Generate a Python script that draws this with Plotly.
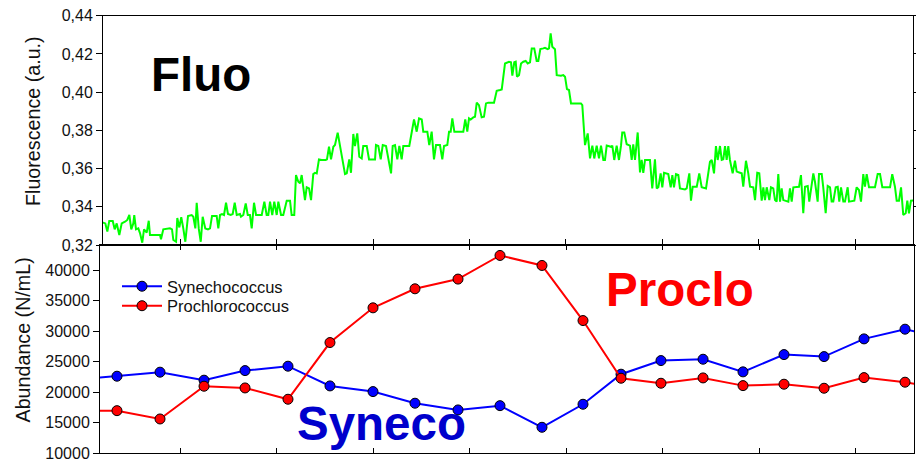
import plotly.graph_objects as go

# ---------------- data ----------------
# Fluorescence trace (time in days, arbitrary origin), values in a.u.
fluo_t = [0.19, 0.205, 0.226, 0.247, 0.267, 0.303, 0.323, 0.344, 0.371, 0.396, 0.430, 0.454, 0.475, 0.495, 0.516, 0.526,
          0.544, 0.568, 0.586, 0.609, 0.627, 0.655, 0.676, 0.689, 0.793, 0.803, 0.827, 0.896, 0.917, 0.931, 0.959,
          0.972, 0.993, 1.013, 1.034, 1.055, 1.083, 1.121, 1.138, 1.159, 1.173, 1.194, 1.215, 1.235, 1.262, 1.290,
          1.311, 1.332, 1.380, 1.397, 1.415, 1.435, 1.456, 1.477, 1.497, 1.525, 1.546, 1.567, 1.588, 1.622,
          1.632, 1.656, 1.681, 1.702, 1.725, 1.743, 1.767, 1.788, 1.847, 1.874, 1.898, 1.915, 1.933, 1.956, 1.977,
          2.002, 2.019, 2.047, 2.070, 2.106, 2.140, 2.157, 2.184, 2.202, 2.226, 2.244, 2.261, 2.295, 2.313, 2.337,
          2.358, 2.381, 2.399, 2.417, 2.440, 2.468, 2.510, 2.523, 2.544, 2.565, 2.589, 2.606, 2.634, 2.658, 2.710,
          2.728, 2.754, 2.772, 2.796, 2.813, 2.837, 2.858, 2.883, 2.899, 2.935, 2.959, 3.021,
          3.031, 3.055, 3.080, 3.101, 3.135, 3.159, 3.187, 3.204, 3.228, 3.252, 3.273, 3.297, 3.314, 3.376, 3.401,
          3.425, 3.453, 3.477, 3.505, 3.521, 3.563, 3.583, 3.608, 3.632, 3.653, 3.694, 3.718, 3.736, 3.770, 3.788,
          3.805, 3.822, 3.843, 3.909, 3.936, 3.956, 3.977, 3.995, 4.012, 4.039, 4.057, 4.075, 4.098, 4.126, 4.150,
          4.171, 4.195, 4.254, 4.282, 4.316, 4.334, 4.368,
          4.409, 4.430, 4.444, 4.464, 4.479, 4.492, 4.513, 4.534, 4.558, 4.582, 4.603, 4.627, 4.645, 4.671, 4.696,
          4.713, 4.734, 4.765, 4.782, 4.810, 4.824, 4.841, 4.858, 4.886, 4.904, 4.948, 4.972, 4.990, 5.010, 5.031,
          5.052, 5.155, 5.169, 5.197, 5.225, 5.249, 5.273, 5.293, 5.318, 5.342, 5.363, 5.387, 5.404, 5.422, 5.466,
          5.480, 5.500, 5.525, 5.549, 5.570, 5.583, 5.604, 5.629, 5.663, 5.681, 5.697, 5.715, 5.743, 5.767, 5.784,
          5.801, 5.819, 5.870, 5.894, 5.922, 5.940, 5.957, 5.981, 5.998, 6.016, 6.044, 6.060, 6.085, 6.102, 6.119,
          6.140, 6.164, 6.181, 6.233, 6.251, 6.278, 6.295, 6.313, 6.355, 6.381, 6.406, 6.451, 6.475, 6.492, 6.510,
          6.534, 6.554, 6.572, 6.596, 6.614, 6.630, 6.648, 6.665, 6.682, 6.699, 6.727, 6.751, 6.769, 6.803, 6.821,
          6.837, 6.865, 6.889, 6.907, 6.941, 6.959, 6.982, 7.003, 7.028, 7.045, 7.062, 7.080, 7.107, 7.124, 7.148,
          7.166,
          7.183, 7.200, 7.218, 7.235, 7.252, 7.287, 7.304, 7.321, 7.339, 7.356, 7.415, 7.435, 7.459, 7.477, 7.505,
          7.521, 7.546, 7.563, 7.580, 7.608, 7.622, 7.650, 7.666, 7.691, 7.712, 7.736, 7.753, 7.770, 7.795, 7.816,
          7.832, 7.850, 7.874, 7.891, 7.919, 7.933, 7.988, 8.012, 8.036, 8.057, 8.081, 8.098, 8.116, 8.140, 8.202,
          8.230, 8.254, 8.278, 8.358, 8.381, 8.409, 8.427, 8.451, 8.472, 8.495, 8.520, 8.537, 8.554, 8.575, 8.599,
          8.62]
fluo_v = [0.3317, 0.3317, 0.3313, 0.3270, 0.3326, 0.3326, 0.3282, 0.3313, 0.3252, 0.3313, 0.3322, 0.3331, 0.3357,
          0.3282, 0.3313, 0.3357, 0.3282, 0.3287, 0.3261, 0.3212, 0.3282, 0.3265, 0.3327, 0.3252, 0.3252, 0.3230,
          0.3282, 0.3287, 0.3282, 0.3226, 0.3217, 0.3341, 0.3292, 0.3345, 0.3287, 0.3217, 0.3352, 0.3357, 0.3348,
          0.3287, 0.3421, 0.3287, 0.3217, 0.3348, 0.3287, 0.3282, 0.3287, 0.3352, 0.3352, 0.3287, 0.3357, 0.3362,
          0.3357, 0.3421, 0.3362, 0.3357, 0.3362, 0.3421, 0.3357, 0.3362,
          0.3348, 0.3357, 0.3418, 0.3357, 0.3357, 0.3287, 0.3421, 0.3357, 0.3357, 0.3427, 0.3357, 0.3357, 0.3427,
          0.3357, 0.3427, 0.3357, 0.3427, 0.3357, 0.3357, 0.3432, 0.3432, 0.3357, 0.3357, 0.3566, 0.3531, 0.3523,
          0.3566, 0.3435, 0.3502, 0.3496, 0.3435, 0.3571, 0.3578, 0.3575, 0.3648, 0.3645, 0.3645, 0.3648, 0.3714,
          0.3648, 0.3714, 0.3723, 0.3788, 0.3714, 0.3571, 0.3575, 0.3648, 0.3578, 0.3781, 0.3718, 0.3784, 0.3662,
          0.3653, 0.3718, 0.3718, 0.3648, 0.3648,
          0.3723, 0.3718, 0.3648, 0.3723, 0.3718, 0.3648, 0.3575, 0.3718, 0.3723, 0.3648, 0.3718, 0.3648, 0.3718,
          0.3718, 0.3793, 0.3857, 0.3793, 0.3863, 0.3857, 0.3793, 0.3793, 0.3723, 0.3793, 0.3648, 0.3723, 0.3723,
          0.3648, 0.3718, 0.3723, 0.3793, 0.3793, 0.3863, 0.3793, 0.3793, 0.3793, 0.3857, 0.3793, 0.3863, 0.3857,
          0.3868, 0.3871, 0.3945, 0.3932, 0.3868, 0.3871, 0.3941, 0.3945, 0.3945, 0.4007, 0.4011, 0.4014, 0.4150,
          0.4159, 0.4156, 0.4086, 0.4156, 0.4159, 0.4081, 0.4089, 0.4150, 0.4159, 0.4163, 0.4150, 0.4156, 0.4229,
          0.4229, 0.4163, 0.4163, 0.4225, 0.4229, 0.4232, 0.4225, 0.4229, 0.4307, 0.4238, 0.4225, 0.4089, 0.4086,
          0.4089, 0.4081, 0.4016, 0.4011, 0.3941, 0.3941, 0.3932, 0.3723, 0.3784, 0.3653, 0.3720, 0.3653, 0.3720,
          0.3653, 0.3720, 0.3645, 0.3645, 0.3720, 0.3714, 0.3720, 0.3645, 0.3720, 0.3645, 0.3720, 0.3789, 0.3789,
          0.3727, 0.3720, 0.3645, 0.3727, 0.3645, 0.3789, 0.3580, 0.3645,
          0.3578, 0.3645, 0.3645, 0.3496, 0.3648, 0.3496, 0.3502, 0.3575, 0.3502, 0.3578, 0.3575, 0.3571, 0.3502,
          0.3566, 0.3502, 0.3571, 0.3566, 0.3496, 0.3491, 0.3496, 0.3575, 0.3432, 0.3505, 0.3505, 0.3575, 0.3502,
          0.3496, 0.3578, 0.3636, 0.3645, 0.3575, 0.3718, 0.3645, 0.3718, 0.3645, 0.3648, 0.3718, 0.3645, 0.3718,
          0.3645, 0.3575, 0.3641, 0.3584, 0.3578, 0.3575, 0.3505, 0.3641, 0.3575, 0.3505, 0.3502, 0.3435, 0.3578,
          0.3575, 0.3432, 0.3502, 0.3435, 0.3502, 0.3435, 0.3502, 0.3496, 0.3435,
          0.3427, 0.3571, 0.3427, 0.3496, 0.3435, 0.3432, 0.3427, 0.3496, 0.3427, 0.3502, 0.3505, 0.3566, 0.3366,
          0.3505, 0.3509, 0.3427, 0.3505, 0.3575, 0.3531, 0.3427, 0.3571, 0.3571, 0.3502, 0.3366, 0.3509, 0.3502,
          0.3427, 0.3427, 0.3502, 0.3505, 0.3427, 0.3502, 0.3427, 0.3427, 0.3502, 0.3427, 0.3432, 0.3502, 0.3488,
          0.3427, 0.3571, 0.3505, 0.3571, 0.3502, 0.3502, 0.3571, 0.3571, 0.3502, 0.3502, 0.3571, 0.3505, 0.3432,
          0.3432, 0.3502, 0.3357, 0.3366, 0.3432, 0.3366, 0.3432, 0.3435, 0.3435]

# Flow cytometry sampling times (days) and abundances (cells/mL)
sample_t = [0.0, 0.347, 0.793, 1.249, 1.674, 2.119, 2.554, 3.000, 3.435, 3.881, 4.316,
            4.751, 5.176, 5.570, 5.984, 6.420, 6.834, 7.259, 7.674, 8.088, 8.513, 8.948]
synechococcus = [22180, 22620, 23280, 21970, 23540, 24260, 21030, 20100, 18200, 17100, 17800,
                 14260, 18030, 22950, 25180, 25400, 23330, 26160, 25830, 28730, 30320, 28760]
prochlorococcus = [16980, 16980, 15620, 20980, 20700, 18850, 28130, 33815, 36930, 38520, 42390,
                   40750, 31730, 22290, 21470, 22340, 21080, 21310, 20650, 22390, 21640, 20530]

day_ticks = [1, 2, 3, 4, 5, 6, 7, 8]

# ---------------- figure ----------------
W, H = 916, 461
FONT = "Liberation Sans, Arial, sans-serif"

fig = go.Figure()
fig.add_trace(go.Scatter(x=fluo_t, y=fluo_v, xaxis="x", yaxis="y", mode="lines",
                         line=dict(color="#00FF00", width=2), showlegend=False))
fig.add_trace(go.Scatter(x=sample_t, y=synechococcus, xaxis="x2", yaxis="y2", mode="lines+markers",
                         name="Synechococcus", legend="legend", line=dict(color="#0000FF", width=2),
                         marker=dict(color="#0000FF", size=10, line=dict(color="black", width=1))))
fig.add_trace(go.Scatter(x=sample_t, y=prochlorococcus, xaxis="x2", yaxis="y2", mode="lines+markers",
                         name="Prochlorococcus", legend="legend2", line=dict(color="#FF0000", width=2),
                         marker=dict(color="#FF0000", size=10, line=dict(color="black", width=1))))

top_dom_y = [1 - 245 / H, 1 - 15.7 / H]
bot_dom_y = [1 - 453.3 / H, 1 - 245 / H]
top_dom_x = [103 / W, 913 / W]
bot_dom_x = [100 / W, 914 / W]

common = dict(showgrid=False, zeroline=False, linecolor="black", linewidth=1, tickcolor="black",
              automargin=False, ticklabeloverflow="allow",
              tickfont=dict(family=FONT, size=16, color="#111"))

leg = dict(xanchor="left", yanchor="middle", bgcolor="rgba(0,0,0,0)", itemwidth=40,
           font=dict(family=FONT, size=16.5, color="#111"))

fig.update_layout(
    width=W, height=H, margin=dict(l=0, r=0, t=0, b=0, autoexpand=False),
    paper_bgcolor="white", plot_bgcolor="white",
    separators=", ",
    font=dict(family=FONT, color="#111"),
    xaxis=dict(domain=top_dom_x, range=[0.202, 8.596], anchor="y", tickmode="array", tickvals=day_ticks,
               ticks="inside", ticklen=6, showline=True, mirror=True, showticklabels=False, **common),
    yaxis=dict(domain=top_dom_y, range=[0.32, 0.44], anchor="x", tick0=0.32, dtick=0.02, tickformat=".2f",
               ticks="outside", ticklen=6, showline=True, mirror="ticks", **common),
    xaxis2=dict(domain=bot_dom_x, range=[0.171, 8.606], anchor="y2", tickmode="array", tickvals=day_ticks,
                ticks="inside", ticklen=5, showline=True, mirror="ticks", showticklabels=False, **common),
    xaxis3=dict(domain=bot_dom_x, range=[0.171, 8.606], anchor="y2", overlaying="x2", tickmode="array",
                tickvals=day_ticks, ticks="outside", ticklen=7, showline=False, showticklabels=False,
                **common),
    yaxis2=dict(domain=bot_dom_y, range=[10000, 44100], anchor="x2", tick0=10000, dtick=5000, tickformat="d",
                ticks="outside", ticklen=6, showline=True, mirror=True, **common),
    legend=dict(x=117 / W, y=1 - 286.5 / H, **leg),
    legend2=dict(x=117 / W, y=1 - 306 / H, **leg),
)

big = dict(family=FONT, size=47.5)
ann = dict(xref="paper", yref="paper", showarrow=False, xanchor="center", yanchor="middle")
fig.add_annotation(text="<b>Fluo</b>", x=201 / W, y=1 - 74.5 / H, font=dict(color="black", **big), **ann)
fig.add_annotation(text="<b>Proclo</b>", x=680 / W, y=1 - 289 / H, font=dict(color="#FF0000", **big), **ann)
fig.add_annotation(text="<b>Syneco</b>", x=381 / W, y=1 - 423 / H, font=dict(color="#0000CC", **big), **ann)
fig.add_annotation(text="Fluorescence (a.u.)", x=33 / W, y=1 - 121 / H, textangle=-90,
                   font=dict(family=FONT, size=19.7, color="#111"), **ann)
fig.add_annotation(text="Abundance (N/mL)", x=22 / W, y=1 - 340.5 / H, textangle=-90,
                   font=dict(family=FONT, size=19.7, color="#111"), **ann)

fig.write_html("out.html", config={"displayModeBar": False},
               post_script="document.body.style.margin='0';")
